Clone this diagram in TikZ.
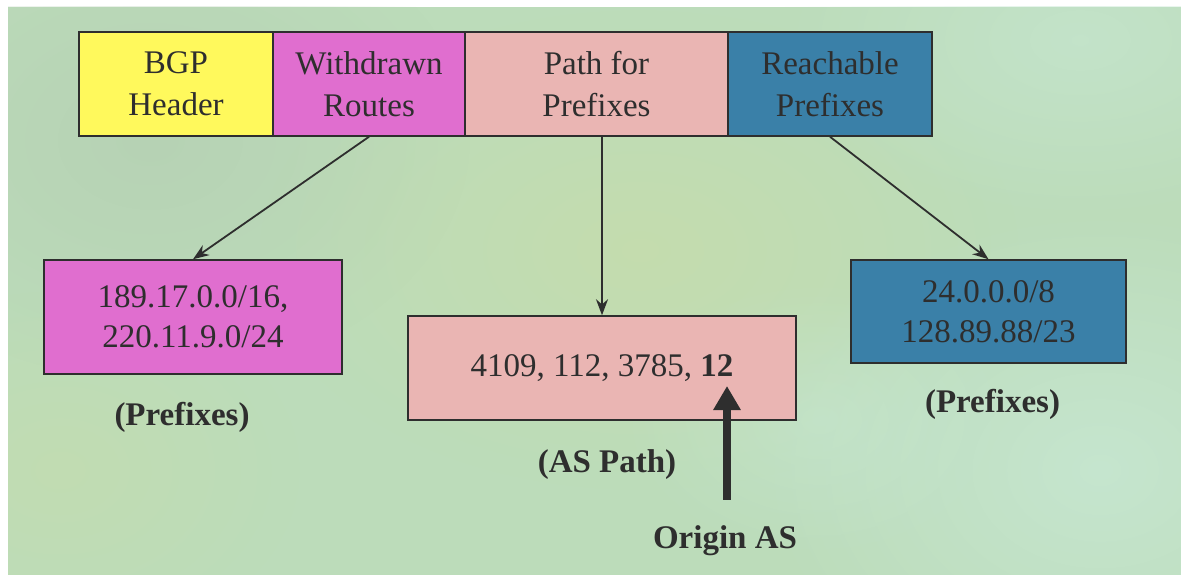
\documentclass[tikz,border=0pt]{standalone}
\usepackage{fontspec}
\setmainfont{Liberation Serif}
\usetikzlibrary{arrows.meta,fadings}

\definecolor{bgbase}{HTML}{BCDCBA}
\definecolor{bgyel}{HTML}{CADDA6}
\definecolor{bgcyan}{HTML}{C8E8D4}
\definecolor{bggrey}{HTML}{B4CEB2}
\definecolor{hdryellow}{HTML}{FFF95C}
\definecolor{wdmagenta}{HTML}{E06ECF}
\definecolor{pathpink}{HTML}{EAB5B3}
\definecolor{reachblue}{HTML}{3A80A8}
\definecolor{ink}{HTML}{2E2E2E}

\tikzfading[name=softspot, inner color=transparent!0, outer color=transparent!100]

\newcommand\boxfont{\fontsize{33}{42}\selectfont}
\newcommand\listfont{\fontsize{33}{40}\selectfont}
\newcommand\lblfont{\fontsize{33}{40}\selectfont\bfseries}

\tikzset{
  box/.style={draw=ink, line width=1.5pt, inner sep=0pt, align=center,
              text=ink, font=\boxfont},
  listbox/.style={box, font=\listfont},
  lbl/.style={inner sep=0pt, text=ink, font=\lblfont, anchor=base},
  link/.style={draw=ink, line width=1.8pt, -{Stealth[length=16pt,width=12pt]}},
  originarrow/.style={draw=ink, line width=8.5pt, -{Triangle[length=24pt,width=26pt]}},
  patch/.style={path fading=softspot},
}

\begin{document}
\begin{tikzpicture}[x=1pt, y=-1pt]
  \useasboundingbox (0,0) rectangle (1181,575);

  % mottled green backdrop
  \fill[white] (0,0) rectangle (1181,575);
  \begin{scope}
    \clip (8,7) rectangle (1181,575);
    \fill[bgbase] (8,7) rectangle (1181,575);
    \fill[bggrey, patch, opacity=0.7] (150,140) ellipse (320 and 240);
    \fill[bgyel, patch, opacity=0.6] (640,250) ellipse (380 and 240);
    \fill[bgyel, patch, opacity=0.4] (60,470) ellipse (240 and 180);
    \fill[bgcyan, patch, opacity=0.8] (1100,470) ellipse (340 and 260);
    \fill[bgcyan, patch, opacity=0.6] (1080,40) ellipse (300 and 180);
    \fill[bgcyan, patch, opacity=0.5] (820,420) ellipse (200 and 140);
  \end{scope}

  % BGP update message fields
  \node[box, fill=hdryellow, minimum width=194, minimum height=104] (bgp) at (176,84) {BGP\\Header};
  \node[box, fill=wdmagenta, minimum width=192, minimum height=104] (wd) at (369,84) {Withdrawn\\Routes};
  \node[box, fill=pathpink, minimum width=263, minimum height=104] (pfx) at (596.5,84) {Path for\\Prefixes};
  \node[box, fill=reachblue, minimum width=204, minimum height=104] (reach) at (830,84) {Reachable\\Prefixes};

  % field contents
  \node[listbox, fill=wdmagenta, minimum width=298, minimum height=114] (wdlist) at (193,317) {189.17.0.0/16,\\220.11.9.0/24};
  \node[listbox, fill=pathpink, minimum width=388, minimum height=104] (aspath) at (602,368) {4109, 112, 3785, \textbf{12}};
  \node[listbox, fill=reachblue, minimum width=275, minimum height=103] (reachlist) at (988.5,311.5) {24.0.0.0/8\\128.89.88/23};

  % captions
  \node[lbl] (lblwd) at (182,425) {(Prefixes)};
  \node[lbl] (lblas) at (607,472) {(AS Path)};
  \node[lbl] (lblreach) at (992.5,412) {(Prefixes)};
  \node[lbl] (origin) at (725,548) {Origin AS};

  % connectors
  \draw[link] (wd.south) -- (wdlist.north);
  \draw[link] (aspath.north |- pfx.south) -- (aspath.north);
  \draw[link] (reach.south) -- (reachlist.north);

  \coordinate (origintip) at (727,386);
  \draw[originarrow, shorten <=25pt] (origin.north -| origintip) -- (origintip);
\end{tikzpicture}
\end{document}
